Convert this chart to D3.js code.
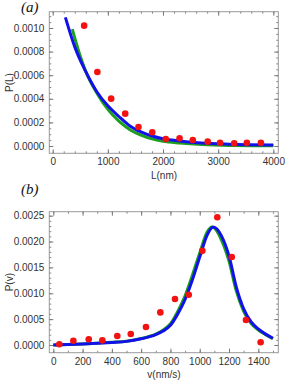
<!DOCTYPE html>
<html>
<head>
<meta charset="utf-8">
<script src="https://cdn.jsdelivr.net/npm/d3@7"></script>
<style>
  body { margin: 0; background: #fff; }
  svg { display: block; }
  .tick text { font-family: "Liberation Sans", Arial, sans-serif; font-size: 10px; fill: #333; }
  .lbl { font-family: "Liberation Sans", Arial, sans-serif; font-size: 10px; fill: #333; }
  .tag { font-family: "Liberation Serif", "DejaVu Serif", serif; font-style: italic; font-size: 15px; fill: #111; }
</style>
</head>
<body>
<div id="chart"></div>
<script>
// panel (a): length distribution
const lenPoints = [570, 810, 1060, 1315, 1555, 1805, 2050, 2300, 2540, 2810, 3035, 3290, 3520, 3775];
const lenProb   = [0.00102, 0.000627, 0.000401, 0.000274, 0.000161, 0.000116, 0.000059, 0.000065, 0.000051, 0.000037, 0.000028, 0.000023, 0.000028, 0.000028];

const lenBlueX = [230, 400, 600, 800, 1000, 1200, 1400, 1600, 1800, 2000, 2300, 2700, 3200, 4000];
const lenBlueY = [0.00109, 0.00084, 0.00063, 0.00046, 0.00034, 0.00025, 0.00017, 0.00012, 0.000085, 0.000062, 0.000043, 0.000025, 0.000015, 0.0000085];
const lenGreenX = [355, 500, 600, 800, 1000, 1200, 1400, 1600, 1800, 2000, 2300, 2700, 3200, 4000];
const lenGreenY = [0.00099, 0.00076, 0.00063, 0.00045, 0.00031, 0.00021, 0.000138, 0.000092, 0.00006, 0.00004, 0.000025, 0.000012, 0.000005, 0.000002];

// panel (b): velocity distribution
const velPoints = [41, 137, 242, 335, 437, 529, 633, 731, 831, 925, 1018, 1120, 1219, 1316, 1416];
const velProb   = [0.0000135, 0.000083, 0.00011, 0.00009, 0.000174, 0.000212, 0.000347, 0.00063, 0.000888, 0.00097, 0.00182, 0.00247, 0.0017, 0.000483, 0.000052];

const velBlueX = [0, 100, 200, 300, 400, 500, 600, 700, 750, 800, 850, 900, 950, 1000, 1050, 1093, 1150, 1200, 1250, 1300, 1350, 1400, 1450, 1500];
const velBlueY = [0, 0.000008, 0.00002, 0.000035, 0.00005, 0.00007, 0.00012, 0.0002, 0.00027, 0.00038, 0.0006, 0.00088, 0.00126, 0.0017, 0.00212, 0.00228, 0.0021, 0.00172, 0.00112, 0.0007, 0.00045, 0.00031, 0.00021, 0.00013];
const velGreenX = [0, 100, 200, 300, 400, 500, 600, 700, 750, 800, 850, 900, 950, 1000, 1050, 1085, 1150, 1200, 1250, 1300, 1350, 1400, 1450, 1500];
const velGreenY = [0, 0.000008, 0.00002, 0.000036, 0.000052, 0.000073, 0.000125, 0.00021, 0.00029, 0.00041, 0.00065, 0.00095, 0.00135, 0.00178, 0.00218, 0.00228, 0.00202, 0.00162, 0.00104, 0.00065, 0.00042, 0.00029, 0.0002, 0.00012];

const W = 291, H = 385;
const svg = d3.select("#chart").append("svg").attr("width", W).attr("height", H);

var drawPanel = function(cfg){
    const x = d3.scaleLinear().domain(cfg.xDomain).range([49.3, 278.3]);
    const y = d3.scaleLinear().domain(cfg.yDomain).range([cfg.bottom, cfg.top]);
    const g = svg.append("g");

    g.append("rect")
        .attr("x", 49.3).attr("y", cfg.top)
        .attr("width", 229).attr("height", cfg.bottom - cfg.top)
        .attr("fill", "none").attr("stroke", "#999").attr("stroke-width", 1);

    // ticks all round, pointing inward
    const mk = (axis, sc, major, minor, tr, fmt) => {
        g.append("g").attr("transform", tr)
            .call(axis(sc).tickValues(minor).tickSize(-2).tickFormat(""))
            .call(s => s.select(".domain").remove())
            .call(s => s.selectAll("line").attr("stroke", "#888"));
        const a = g.append("g").attr("transform", tr)
            .call(axis(sc).tickValues(major).tickSize(-4).tickPadding(5).tickFormat(fmt || ""))
            .call(s => s.select(".domain").remove())
            .call(s => s.selectAll("line").attr("stroke", "#777"));
        return a;
    };
    mk(d3.axisBottom, x, cfg.xMajor, cfg.xMinor, `translate(0,${cfg.bottom})`, d3.format("d"));
    mk(d3.axisTop, x, cfg.xMajor, cfg.xMinor, `translate(0,${cfg.top})`);
    mk(d3.axisLeft, y, cfg.yMajor, cfg.yMinor, `translate(49.3,0)`, d3.format(".4f"));
    mk(d3.axisRight, y, cfg.yMajor, cfg.yMinor, `translate(278.3,0)`);

    const line = d3.line().x(d => x(d[0])).y(d => y(d[1])).curve(d3.curveMonotoneX);
    const clip = "clip" + cfg.name;
    g.append("clipPath").attr("id", clip).append("rect")
        .attr("x", 49.8).attr("y", cfg.top + 0.5).attr("width", 228).attr("height", cfg.bottom - cfg.top - 1);

    g.append("path").datum(d3.zip(cfg.gX, cfg.gY))
        .attr("d", line).attr("fill", "none").attr("stroke", "#1e9e1e").attr("stroke-width", 3)
        .attr("clip-path", `url(#${clip})`);
    g.append("path").datum(d3.zip(cfg.bX, cfg.bY))
        .attr("d", line).attr("fill", "none").attr("stroke", "#1212e8").attr("stroke-width", 3)
        .attr("clip-path", `url(#${clip})`);

    g.selectAll("circle.pt").data(d3.zip(cfg.pX, cfg.pY)).enter().append("circle")
        .attr("class", "pt")
        .attr("cx", d => x(d[0])).attr("cy", d => y(d[1])).attr("r", 3.3)
        .attr("fill", "#f31212");

    g.append("text").attr("class", "lbl").attr("x", 164).attr("y", cfg.xLabelY)
        .attr("text-anchor", "middle").text(cfg.xLabel);
    g.append("text").attr("class", "lbl")
        .attr("transform", `translate(12.5,${(cfg.top + cfg.bottom) / 2}) rotate(-90)`)
        .attr("text-anchor", "middle").text(cfg.yLabel);
    g.append("text").attr("class", "tag").attr("x", 21).attr("y", cfg.tagY).text(cfg.tag);
};

drawPanel({
    name: "a", tag: "(a)", tagY: 12,
    top: 11.7, bottom: 153.3,
    xDomain: [-61.6, 4090], yDomain: [-0.0000619, 0.001138],
    xMajor: [0, 1000, 2000, 3000, 4000], xMinor: d3.range(0, 4001, 200),
    yMajor: [0, 0.0002, 0.0004, 0.0006, 0.0008, 0.001], yMinor: d3.range(0, 0.00111, 0.00005),
    pX: lenPoints, pY: lenProb, bX: lenBlueX, bY: lenBlueY, gX: lenGreenX, gY: lenGreenY,
    xLabel: "L(nm)", xLabelY: 179, yLabel: "P(L)"
});

drawPanel({
    name: "b", tag: "(b)", tagY: 194,
    top: 211.7, bottom: 352.7,
    xDomain: [-27.3, 1536.6], yDomain: [-0.000149, 0.002577],
    xMajor: d3.range(0, 1401, 200), xMinor: d3.range(0, 1501, 100),
    yMajor: [0, 0.0005, 0.001, 0.0015, 0.002, 0.0025], yMinor: d3.range(0, 0.00251, 0.0001),
    pX: velPoints, pY: velProb, bX: velBlueX, bY: velBlueY, gX: velGreenX, gY: velGreenY,
    xLabel: "v(nm/s)", xLabelY: 378, yLabel: "P(v)"
});
</script>
</body>
</html>
